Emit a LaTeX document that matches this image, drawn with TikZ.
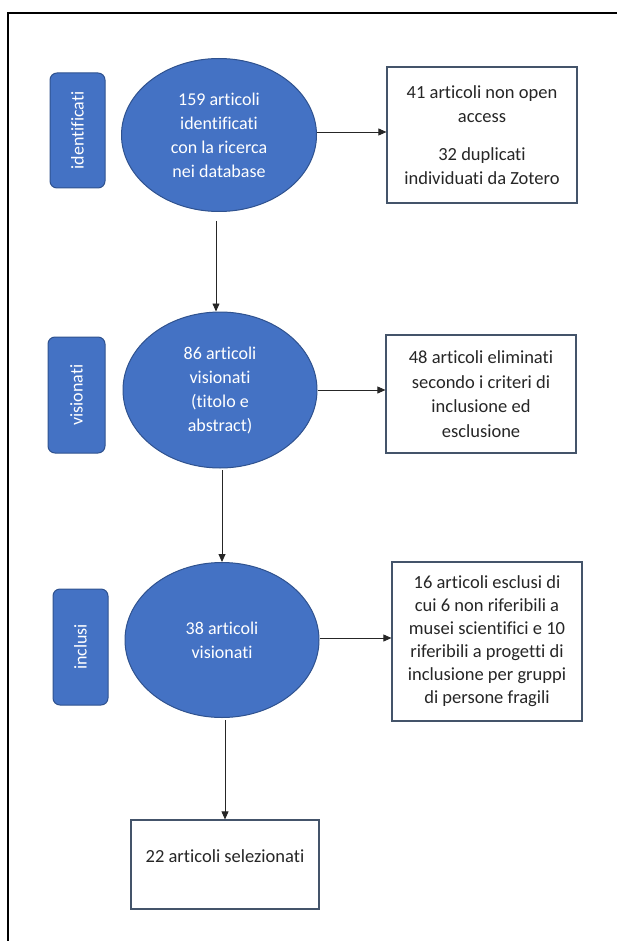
\documentclass[tikz,border=0pt]{standalone}
\usepackage{fontspec}
\setmainfont{Carlito}[Ligatures=NoCommon, RawFeature={-liga;-clig;-calt;-dlig}]
\usetikzlibrary{arrows.meta,shapes.geometric}
\definecolor{stepblue}{HTML}{4472C4}
\definecolor{stepedge}{HTML}{2F528F}
\definecolor{boxedge}{HTML}{44546A}
\definecolor{arrowgray}{HTML}{262626}
\tikzset{
  phase/.style={ellipse, draw=stepedge, line width=1pt, fill=stepblue, text=white,
    inner sep=0pt, align=center, font=\fontsize{18}{24}\selectfont},
  tag/.style={draw=stepedge, line width=1pt, fill=stepblue, rounded corners=7pt,
    inner sep=0pt, text=white, font=\fontsize{18}{20}\selectfont},
  note/.style={draw=boxedge, line width=1.2pt, fill=white, inner sep=0pt,
    align=center, font=\fontsize{18.5}{23.5}\selectfont, text=black!85},
  arr/.style={draw=arrowgray, line width=0.8pt, -{Triangle[length=8pt,width=7pt]}},
}
\begin{document}
\begin{tikzpicture}[x=1pt,y=-1pt]
\useasboundingbox (0,0) rectangle (624,941);
% page frame
\draw[line width=1.3pt] (8,941) -- (8,13) -- (617,13);

% stage ellipses
\node[phase, minimum width=195pt, minimum height=153pt] (e1) at (219,135)
  {159 articoli\\identificati\\con la ricerca\\nei database};
\node[phase, minimum width=194pt, minimum height=156pt] (e2) at (220,390)
  {86 articoli\\visionati\\(titolo e\\abstract)};
\node[phase, minimum width=194pt, minimum height=155pt] (e3) at (222,640)
  {38 articoli\\visionati};

% stage tags
\node[tag, minimum width=55pt, minimum height=115pt] (t1) at (77.5,130.5)
  {\rotatebox{90}{identificati}};
\node[tag, minimum width=57pt, minimum height=116pt] (t2) at (76.5,395)
  {\rotatebox{90}{visionati}};
\node[tag, minimum width=55pt, minimum height=116pt] (t3) at (80.5,647)
  {\rotatebox{90}{inclusi}};

% side notes
\node[note, minimum width=190pt, minimum height=136pt] (b1) at (482,135)
  {41 articoli non open\\access\\[15pt]32 duplicati\\individuati da Zotero};
\node[note, minimum width=190pt, minimum height=118pt,
  font=\fontsize{18.5}{24.5}\selectfont] (b2) at (481,394)
  {48 articoli eliminati\\secondo i criteri di\\inclusione ed\\esclusione};
\node[note, minimum width=190pt, minimum height=159pt,
  font=\fontsize{18.5}{23}\selectfont] (b3) at (487,641.5)
  {16 articoli esclusi di\\cui 6 non riferibili a\\musei scientifici e 10\\riferibili a progetti di\\inclusione per gruppi\\di persone fragili};
\node[note, minimum width=188pt, minimum height=89pt, text depth=16pt] (b4) at (225,864.5)
  {22 articoli selezionati};

% connectors
\draw[arr] (e1.east) ++(0,-3) coordinate (a1) -- (a1 -| b1.west);
\draw[arr] (e2.east) -- (e2.east -| b2.west);
\draw[arr] (e3.east) ++(0,-2) coordinate (a3) -- (a3 -| b3.west);
\draw[arr] (216,221) coordinate (d1) -- (d1 |- e2.north);
\draw[arr] (222,470) coordinate (d2) -- (d2 |- e3.north);
\draw[arr] (225,720) coordinate (d3) -- (d3 |- b4.north);
\end{tikzpicture}
\end{document}
